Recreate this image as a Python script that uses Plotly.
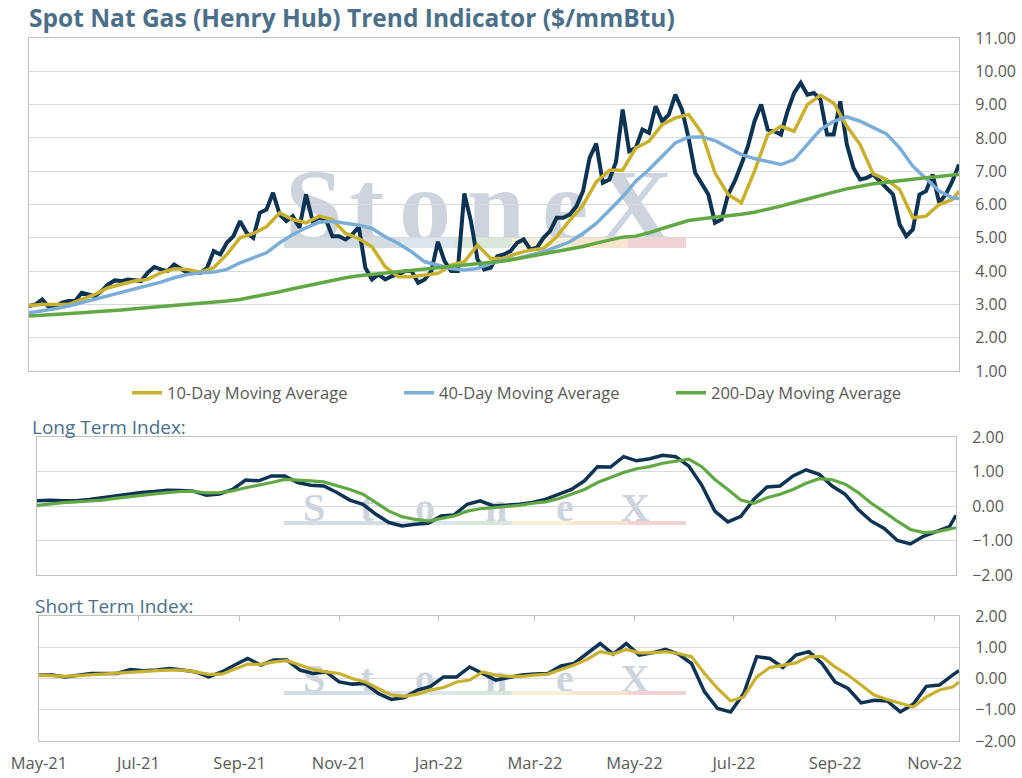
import pandas as pd
import plotly.graph_objects as go

# Henry Hub spot price, read every 4 days from 1 May 2021
price_dates = pd.date_range("2021-05-01", periods=142, freq="4D")
spot = [
    2.95, 3.0, 3.15, 2.92, 2.93, 3.05, 3.1, 3.1, 3.35, 3.3,
    3.25, 3.4, 3.6, 3.72, 3.7, 3.75, 3.72, 3.7, 3.95, 4.12,
    4.05, 4.0, 4.2, 4.08, 3.95, 3.95, 3.95, 4.1, 4.6, 4.5,
    4.85, 5.05, 5.5, 5.15, 5.0, 5.75, 5.85, 6.35, 5.7, 5.5,
    5.65, 5.3, 6.3, 5.5, 5.6, 5.55, 5.05, 5.05, 4.95, 5.1,
    5.33, 4.1, 3.75, 3.9, 3.75, 3.85, 3.9, 4.0, 4.0, 3.65,
    3.75, 4.0, 4.88, 4.3, 4.0, 4.0, 6.33, 5.5, 4.35, 4.05,
    4.1, 4.45, 4.5, 4.6, 4.85, 4.95, 4.65, 4.7, 5.0, 5.2,
    5.6, 5.6, 5.7, 5.95, 6.4, 7.4, 7.83, 6.65, 6.75, 7.28,
    8.85, 7.6, 7.7, 8.25, 8.15, 8.95, 8.5, 8.7, 9.3, 8.85,
    8.0, 6.95, 6.6, 6.3, 5.45, 5.55, 6.3, 6.7, 7.2, 7.75,
    8.5, 9.0, 8.25, 8.2, 8.1, 8.8, 9.35, 9.65, 9.3, 9.35,
    9.15, 8.1, 8.1, 9.1, 7.8, 7.1, 6.75, 6.8, 6.9, 6.7,
    6.5, 6.3, 5.4, 5.05, 5.25, 6.3, 6.4, 6.9, 6.05, 6.3,
    6.7, 7.2,
]

# averages and indexes, read every 8 days plus the last day
ma_dates = list(price_dates[::2]) + [price_dates[-1]]
ma10 = [
    2.97, 3.0, 3.0, 3.0, 3.15, 3.3, 3.5, 3.6, 3.7, 3.75,
    3.95, 4.07, 4.05, 3.97, 4.1, 4.5, 5.0, 5.13, 5.33, 5.75,
    5.55, 5.45, 5.65, 5.55, 5.13, 4.98, 4.73, 4.13, 3.83, 3.83,
    3.88, 3.93, 4.18, 4.28, 4.78, 4.38, 4.38, 4.53, 4.63, 4.68,
    5.03, 5.53, 5.98, 6.68, 7.03, 7.03, 7.7, 7.9, 8.4, 8.6,
    8.7, 8.15, 6.95, 6.3, 6.05, 7.0, 8.1, 8.35, 8.2, 9.0,
    9.28, 9.05, 8.35, 7.8, 6.92, 6.75, 6.45, 5.6, 5.65, 6.0,
    6.15, 6.4,
]
ma40 = [
    2.75, 2.8, 2.87, 2.95, 3.05, 3.17, 3.27, 3.37, 3.47, 3.57,
    3.67, 3.8, 3.9, 3.95, 3.97, 4.05, 4.25, 4.4, 4.55, 4.85,
    5.1, 5.3, 5.47, 5.5, 5.45, 5.38, 5.28, 5.03, 4.83, 4.58,
    4.28, 4.18, 4.08, 4.03, 4.08, 4.23, 4.33, 4.38, 4.48, 4.58,
    4.73, 4.88, 5.13, 5.43, 5.83, 6.23, 6.7, 7.05, 7.45, 7.85,
    8.02, 8.03, 7.92, 7.7, 7.5, 7.38, 7.3, 7.2, 7.35, 7.8,
    8.25, 8.5, 8.63, 8.5, 8.3, 8.12, 7.7, 7.15, 6.78, 6.4,
    6.2, 6.18,
]
ma200 = [
    2.65, 2.67, 2.7, 2.73, 2.75, 2.78, 2.8, 2.83, 2.87, 2.9,
    2.93, 2.97, 3.0, 3.03, 3.07, 3.1, 3.15, 3.22, 3.3, 3.38,
    3.47, 3.55, 3.65, 3.72, 3.8, 3.86, 3.9, 3.95, 3.98, 4.02,
    4.06, 4.1, 4.14, 4.18, 4.23, 4.28, 4.3, 4.37, 4.44, 4.52,
    4.6, 4.66, 4.74, 4.84, 4.93, 5.02, 5.05, 5.15, 5.28, 5.4,
    5.52, 5.57, 5.61, 5.66, 5.71, 5.77, 5.85, 5.95, 6.06, 6.17,
    6.27, 6.37, 6.47, 6.55, 6.62, 6.67, 6.72, 6.76, 6.8, 6.84,
    6.89, 6.91,
]
long_index = [
    0.15, 0.17, 0.15, 0.15, 0.19, 0.24, 0.29, 0.35, 0.39, 0.42,
    0.46, 0.45, 0.43, 0.31, 0.35, 0.48, 0.75, 0.73, 0.87, 0.87,
    0.68, 0.6, 0.58, 0.39, 0.17, 0.05, -0.24, -0.48, -0.58, -0.53,
    -0.5, -0.29, -0.26, 0.05, 0.15, 0.0, 0.02, 0.05, 0.1, 0.19,
    0.34, 0.48, 0.73, 1.14, 1.13, 1.43, 1.31, 1.37, 1.47, 1.43,
    1.16, 0.6, -0.15, -0.46, -0.3, 0.2, 0.55, 0.58, 0.87, 1.05,
    0.92, 0.58, 0.34, -0.1, -0.44, -0.65, -1.0, -1.1, -0.88, -0.75,
    -0.6, -0.27,
]
long_avg = [
    0.02, 0.07, 0.1, 0.12, 0.14, 0.17, 0.22, 0.27, 0.31, 0.35,
    0.39, 0.42, 0.42, 0.38, 0.39, 0.44, 0.53, 0.6, 0.68, 0.77,
    0.76, 0.73, 0.7, 0.6, 0.48, 0.34, 0.1, -0.15, -0.31, -0.39,
    -0.44, -0.37, -0.29, -0.15, -0.08, -0.05, -0.02, 0.02, 0.08, 0.12,
    0.21, 0.34, 0.48, 0.68, 0.82, 0.97, 1.08, 1.14, 1.24, 1.31,
    1.36, 1.14, 0.77, 0.48, 0.17, 0.08, 0.24, 0.34, 0.48, 0.66,
    0.79, 0.76, 0.63, 0.39, 0.08, -0.17, -0.44, -0.68, -0.77, -0.75,
    -0.68, -0.63,
]
short_index = [
    0.11, 0.11, 0.05, 0.1, 0.16, 0.16, 0.16, 0.29, 0.25, 0.27,
    0.32, 0.27, 0.21, 0.05, 0.21, 0.43, 0.64, 0.43, 0.59, 0.59,
    0.27, 0.16, 0.21, -0.11, -0.18, -0.16, -0.48, -0.67, -0.61, -0.37,
    -0.25, 0.05, 0.05, 0.37, 0.16, -0.05, 0.03, 0.11, 0.14, 0.16,
    0.4, 0.48, 0.8, 1.12, 0.78, 1.12, 0.75, 0.82, 0.93, 0.78,
    0.48, -0.43, -0.96, -1.07, -0.48, 0.7, 0.64, 0.35, 0.75, 0.86,
    0.48, -0.11, -0.32, -0.78, -0.7, -0.72, -1.07, -0.82, -0.25, -0.21,
    0.11, 0.25,
]
short_avg = [
    0.11, 0.1, 0.07, 0.09, 0.12, 0.14, 0.18, 0.21, 0.24, 0.25,
    0.27, 0.27, 0.21, 0.13, 0.14, 0.29, 0.46, 0.45, 0.53, 0.57,
    0.43, 0.29, 0.21, 0.16, 0.0, -0.11, -0.32, -0.53, -0.57, -0.5,
    -0.37, -0.29, -0.11, -0.05, 0.21, 0.11, 0.07, 0.07, 0.11, 0.14,
    0.29, 0.43, 0.61, 0.86, 0.78, 0.93, 0.82, 0.82, 0.86, 0.8,
    0.7, 0.16, -0.32, -0.72, -0.59, 0.05, 0.35, 0.43, 0.5, 0.7,
    0.7, 0.37, 0.11, -0.21, -0.53, -0.67, -0.8, -0.91, -0.59, -0.37,
    -0.27, -0.11,
]
tick_dates = ["2021-05-01", "2021-07-01", "2021-09-01", "2021-11-01", "2022-01-01",
              "2022-03-01", "2022-05-01", "2022-07-01", "2022-09-01", "2022-11-01"]

NAVY = "#0d3353"
GOLD = "#c8b12f"
BLUE = "#7aaed6"
GREEN = "#62a845"
TEXT = "#595959"
HEAD = "#4b6f89"
FONT = "Open Sans"
W, H = 1022, 778

fig = go.Figure()

def line(x, y, color, width, xa, ya, name=None):
    fig.add_trace(go.Scatter(
        x=x, y=y, mode="lines", name=name, showlegend=name is not None,
        line=dict(color=color, width=width), xaxis=xa, yaxis=ya,
    ))

line(list(price_dates), spot, NAVY, 4, "x", "y")
line(ma_dates, ma10, GOLD, 3.5, "x", "y", "10-Day Moving Average")
line(ma_dates, ma40, BLUE, 3.5, "x", "y", "40-Day Moving Average")
line(ma_dates, ma200, GREEN, 3.5, "x", "y", "200-Day Moving Average")
line(ma_dates, long_index, NAVY, 3.5, "x2", "y2")
line(ma_dates, long_avg, GREEN, 3.2, "x2", "y2")
line(ma_dates, short_index, NAVY, 3.5, "x3", "y3")
line(ma_dates, short_avg, GOLD, 3.2, "x3", "y3")
# carries the tick marks on the top edge of the bottom panel
fig.add_trace(go.Scatter(x=[price_dates[0]], y=[None], mode="lines",
                         showlegend=False, xaxis="x4", yaxis="y3", hoverinfo="skip"))

xr = [price_dates[0], price_dates[-1]]

def px(a, b):
    return [a / W, b / W]

def py(top, bottom):
    return [1 - bottom / H, 1 - top / H]

xbase = dict(range=xr, showgrid=False, showline=True, linecolor="#bfbfbf", mirror=True,
             zeroline=False, ticks="", showticklabels=False, automargin=False)
ybase = dict(side="right", showgrid=True, gridcolor="#d9d9d9", gridwidth=1, showline=True,
             linecolor="#bfbfbf", mirror=True, zeroline=False, ticks="", tickformat=".2f",
             dtick=1, tickfont=dict(family=FONT, size=16, color=TEXT), ticklabelstandoff=12,
             automargin=False)

fig.update_layout(
    width=W, height=H,
    margin=dict(l=0, r=0, t=0, b=0, autoexpand=False),
    paper_bgcolor="white", plot_bgcolor="rgba(0,0,0,0)",
    font=dict(family=FONT, color=TEXT),
    xaxis=dict(xbase, domain=px(29, 959), anchor="y"),
    yaxis=dict(ybase, domain=py(38, 371), range=[1, 11], anchor="x"),
    xaxis2=dict(xbase, domain=px(37, 956), anchor="y2"),
    yaxis2=dict(ybase, domain=py(437, 575), range=[-2, 2], anchor="x2"),
    xaxis3=dict(xbase, domain=px(39, 959), anchor="y3", mirror=False, showticklabels=True,
                tickvals=tick_dates, tickformat="%b-%y", ticklabelstandoff=7,
                tickfont=dict(family=FONT, size=16.5, color=TEXT)),
    yaxis3=dict(ybase, domain=py(616, 741), range=[-2, 2], anchor="x3"),
    xaxis4=dict(range=xr, overlaying="x3", side="top", anchor="y3", showgrid=False,
                showline=True, linecolor="#bfbfbf", zeroline=False, tickvals=tick_dates,
                ticks="inside", ticklen=5, tickcolor="#bfbfbf", showticklabels=False),
    legend=dict(orientation="h", x=127 / W, xanchor="left", y=1 - 393 / H, yanchor="middle",
                entrywidth=227, entrywidthmode="pixels", bgcolor="rgba(0,0,0,0)",
                font=dict(family=FONT, size=16.5, color=TEXT)),
    showlegend=True,
)

fig.add_annotation(text="<b>Spot Nat Gas (Henry Hub) Trend Indicator ($/mmBtu)</b>",
                   x=27 / W, y=1 - 17 / H, xref="paper", yref="paper", xanchor="left",
                   yanchor="middle", showarrow=False, font=dict(family=FONT, size=24.5, color=HEAD))
fig.add_annotation(text="Long Term Index:", x=30 / W, y=1 - 427 / H, xref="paper", yref="paper",
                   xanchor="left", yanchor="middle", showarrow=False,
                   font=dict(family=FONT, size=19, color=HEAD))
fig.add_annotation(text="Short Term Index:", x=33 / W, y=1 - 606 / H, xref="paper", yref="paper",
                   xanchor="left", yanchor="middle", showarrow=False,
                   font=dict(family=FONT, size=19, color=HEAD))

# StoneX watermark behind each panel
letters = ["S", "t", "o", "n", "e", "X"]
letter_x = [314, 367, 425, 496, 565, 635]
bar_colors = ["#d3dbe3", "#dbe6ee", "#d9e7da", "#f5f0d6", "#f8e5d0", "#f1d3d6"]
bar_edges = [284, 400, 455, 512, 572, 628, 686]

def watermark(mid_y, size, bar_top, bar_h):
    for ch, cx in zip(letters, letter_x):
        fig.add_shape(type="rect", xref="paper", yref="paper", layer="below",
                      x0=(cx - 45) / W, x1=(cx + 45) / W,
                      y0=1 - (mid_y + size * 0.6) / H, y1=1 - (mid_y - size * 0.6) / H,
                      line=dict(width=0), fillcolor="rgba(0,0,0,0)",
                      label=dict(text="<b>" + ch + "</b>", textposition="middle center",
                                 font=dict(family="Liberation Serif", size=size, color="#cdd4dd")))
    for i, c in enumerate(bar_colors):
        fig.add_shape(type="rect", xref="paper", yref="paper", layer="below",
                      x0=bar_edges[i] / W, x1=bar_edges[i + 1] / W,
                      y0=1 - (bar_top + bar_h) / H, y1=1 - bar_top / H,
                      line=dict(width=0), fillcolor=c)

watermark(194, 104, 238, 10)
watermark(503, 40, 521, 4)
watermark(674, 40, 691, 4)

# the page body has a default margin; drop it so the figure sits at the window's corner
fig.write_html("out.html", config={"displayModeBar": False},
               post_script="document.body.style.margin='0';")
